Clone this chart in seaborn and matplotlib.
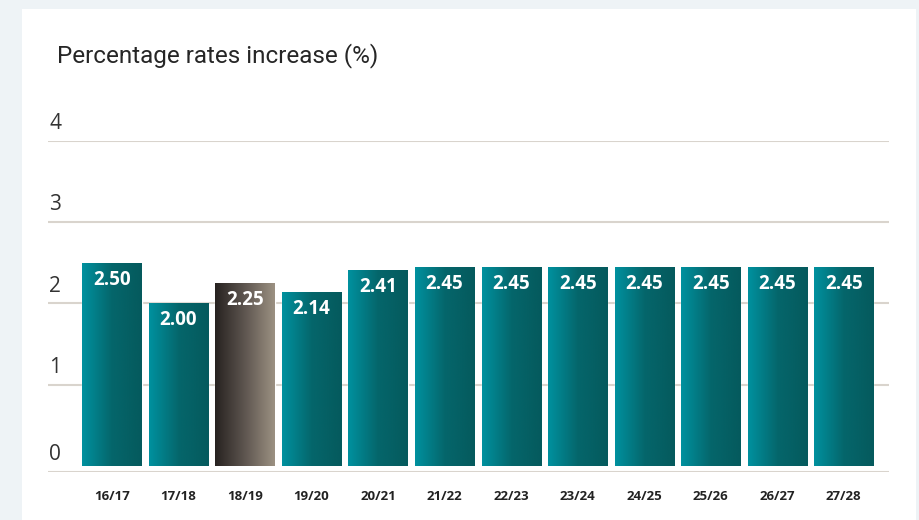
import numpy as np
import pandas as pd
import matplotlib
matplotlib.use("Agg")
import matplotlib.pyplot as plt
from matplotlib.colors import LinearSegmentedColormap
from matplotlib.patches import Rectangle
import seaborn as sns

# Data
years = ["16/17", "17/18", "18/19", "19/20", "20/21", "21/22",
         "22/23", "23/24", "24/25", "25/26", "26/27", "27/28"]
rates = [2.50, 2.00, 2.25, 2.14, 2.41, 2.45, 2.45, 2.45, 2.45, 2.45, 2.45, 2.45]
highlight = "18/19"
y_ticks = [0, 1, 2, 3, 4]
title = "Percentage rates increase (%)"

sns.set_theme(style="white")
plt.rcParams["font.family"] = ["Open Sans", "DejaVu Sans"]

df = pd.DataFrame({"year": years, "rate": rates})

fig = plt.figure(figsize=(9.19, 5.2), dpi=100, facecolor="#eef3f6")
# white panel
fig.patches.append(Rectangle((22 / 919, 0), (916 - 22) / 919, 1 - 9 / 520,
                             transform=fig.transFigure, facecolor="white",
                             edgecolor="none", zorder=-10))

ax = fig.add_axes([48 / 919, 1 - 472 / 520, (889 - 48) / 919, (472 - 141) / 520])
ax.set_facecolor("none")
ax.set_zorder(1)

sns.barplot(data=df, x="year", y="rate", ax=ax, width=0.89, color="#007a85",
            saturation=1, zorder=3)

teal = LinearSegmentedColormap.from_list("teal", ["#00919f", "#05666b", "#055a5d"])
grey = LinearSegmentedColormap.from_list("grey", ["#272220", "#5e5650", "#9c9182"])
grad = np.linspace(0, 1, 256).reshape(1, -1)

for patch, yr, val in zip(list(ax.patches), years, rates):
    x0 = patch.get_x()
    w = patch.get_width()
    h = patch.get_height()
    patch.set_facecolor("none")
    cmap = grey if yr == highlight else teal
    im = ax.imshow(grad, cmap=cmap, aspect="auto", extent=[x0, x0 + w, 0, h],
                   zorder=3, interpolation="bicubic")
    im.set_clip_path(patch)
    ax.annotate(f"{val:.2f}", (x0 + w / 2, h), xytext=(0, -12),
                textcoords="offset points", ha="center", va="center",
                color="white", fontsize=13.5, fontweight="bold", zorder=5,
                family=["Open Sans", "DejaVu Sans"])

ax.set_xlim(-0.962, 11.68)
ax.set_ylim(-0.074, 4)

# gridlines and y labels (labels sit above their lines)
grid_color = "#d9d4cd"
for t in y_ticks:
    yline = t if t > 0 else -0.074
    ax.axhline(yline, color=grid_color, lw=1.5, zorder=1)
    ax.annotate(str(t), (0.0, yline), xycoords=("axes fraction", "data"),
                xytext=(1, 5), textcoords="offset points", ha="left", va="bottom",
                fontsize=15, color="#333333", fontweight="normal",
                family=["Open Sans", "DejaVu Sans"])

ax.set_yticks([])
ax.set_xlabel("")
ax.set_ylabel("")
ax.tick_params(axis="x", length=0, pad=13)
for lbl in ax.get_xticklabels():
    lbl.set_fontweight("bold")
    lbl.set_fontsize(9.5)
    lbl.set_color("#222222")
for s in ax.spines.values():
    s.set_visible(False)

fig.text(57 / 919, 1 - 56 / 520, title, fontsize=17.5, color="#262626",
         ha="left", va="center", family=["Roboto", "DejaVu Sans"])

fig.savefig("out.png", dpi=100, facecolor=fig.get_facecolor())
